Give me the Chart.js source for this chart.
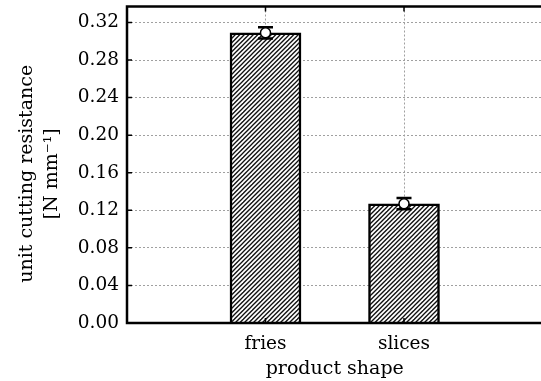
<!DOCTYPE html>
<html>
<head>
<meta charset="utf-8">
<script src="https://cdn.jsdelivr.net/npm/chart.js@4"></script>
<style>
  html, body { margin: 0; padding: 0; background: #fff; overflow: hidden; }
</style>
</head>
<body>
<canvas id="myChart" width="549" height="381"></canvas>
<script>
// data
const categories = ['', 'fries', 'slices', ''];
const resistance = [null, 0.309, 0.127, null];
const resistanceErr = [null, 0.006, 0.006, null];
const yTicks = [0.00, 0.04, 0.08, 0.12, 0.16, 0.20, 0.24, 0.28, 0.32];

const serif = 'DejaVu Serif';

// diagonal hatching for the bars
function makeHatch() {
  const c = document.createElement('canvas');
  c.width = 9; c.height = 9;
  const g = c.getContext('2d');
  g.fillStyle = '#fff';
  g.fillRect(0, 0, 9, 9);
  g.strokeStyle = '#111';
  g.lineWidth = 1.35;
  for (let k = 0; k <= 4; k++) {
    const o = k * 4.5;
    g.beginPath();
    g.moveTo(o + 1, -1);
    g.lineTo(o - 10, 10);
    g.stroke();
  }
  return g.createPattern(c, 'repeat');
}
const ctx = document.getElementById('myChart').getContext('2d');
const hatch = makeHatch();

// no label overflow padding, the layout padding decides
function noPad(s) {
  s.paddingTop = 0; s.paddingBottom = 0;
  s.paddingLeft = 0; s.paddingRight = 0;
}

// error bars drawn right after the bars, before the markers
const errorBars = {
  id: 'errorBars',
  afterDatasetDraw(chart, args) {
    if (args.index !== 1) return;
    const y = chart.scales.y;
    const g = chart.ctx;
    g.save();
    g.strokeStyle = '#000';
    args.meta.data.forEach((bar, i) => {
      if (resistance[i] == null) return;
      const top = y.getPixelForValue(resistance[i] + resistanceErr[i]);
      const bot = y.getPixelForValue(resistance[i] - resistanceErr[i]);
      g.lineWidth = 2;
      g.beginPath();
      g.moveTo(bar.x, top); g.lineTo(bar.x, bot);
      g.stroke();
      g.lineWidth = 2.5;
      g.beginPath();
      g.moveTo(bar.x - 7.5, top); g.lineTo(bar.x + 7.5, top);
      g.moveTo(bar.x - 7.5, bot); g.lineTo(bar.x + 7.5, bot);
      g.stroke();
    });
    g.restore();
  }
};

// frame + inward ticks
const frame = {
  id: 'frame',
  afterDraw(chart) {
    const a = chart.chartArea;
    const g = chart.ctx;
    const x = chart.scales.x, y = chart.scales.y;
    g.save();
    g.strokeStyle = '#000';
    g.lineWidth = 1.5;
    g.beginPath();
    y.ticks.forEach(t => {
      const py = y.getPixelForValue(t.value);
      g.moveTo(a.left, py); g.lineTo(a.left + 5, py);
    });
    x.ticks.forEach((t, i) => {
      if (!categories[i]) return;
      const px = x.getPixelForTick(i);
      g.moveTo(px, a.top); g.lineTo(px, a.top + 5);
      g.moveTo(px, a.bottom); g.lineTo(px, a.bottom - 5);
    });
    g.stroke();
    g.lineWidth = 2.5;
    g.strokeRect(a.left, a.top, a.right - a.left, a.bottom - a.top);
    g.restore();
  }
};

let myChart = new Chart(ctx, {
  type: 'bar',
  data: {
    labels: categories,
    datasets: [
      {
        type: 'line',
        data: resistance,
        showLine: false,
        pointRadius: 5,
        pointBackgroundColor: '#fff',
        pointBorderColor: '#000',
        pointBorderWidth: 1.5,
        order: 0
      },
      {
        data: resistance,
        backgroundColor: hatch,
        borderColor: '#000',
        borderWidth: 2.5,
        borderSkipped: 'start',
        barThickness: 71,
        order: 1
      }
    ]
  },
  options: {
    responsive: false,
    animation: false,
    devicePixelRatio: 1,
    layout: { padding: { top: 5, right: 3, left: 0, bottom: 0 } },
    plugins: { legend: { display: false }, tooltip: { enabled: false } },
    scales: {
      x: {
        offset: false,
        afterFit: s => { s.height = 58; noPad(s); },
        grid: {
          offset: false,
          drawTicks: false,
          color: c => (categories[c.index] ? '#a0a0a0' : 'rgba(0,0,0,0)'),
          lineWidth: 1
        },
        border: { display: false, dash: [2, 2] },
        ticks: {
          color: '#000',
          padding: 10,
          maxRotation: 0,
          font: { family: serif, size: 18.5 }
        },
        title: {
          display: true,
          text: 'product shape',
          color: '#000',
          padding: { top: 0, bottom: 1 },
          font: { family: serif, size: 19 }
        }
      },
      y: {
        min: 0,
        max: 0.337,
        afterFit: s => { s.width = 127; noPad(s); },
        afterBuildTicks: s => { s.ticks = yTicks.map(v => ({ value: v })); },
        grid: { drawTicks: false, color: '#a0a0a0', lineWidth: 1 },
        border: { display: false, dash: [2, 2] },
        ticks: {
          color: '#000',
          padding: 8,
          font: { family: serif, size: 18.5 },
          callback: v => Number(v).toFixed(2)
        },
        title: {
          display: true,
          text: ['unit cutting resistance   ', '[N mm\u207B\u00B9]   '],
          color: '#000',
          padding: { top: 15, bottom: 0 },
          font: { family: serif, size: 19, lineHeight: 1.3 }
        }
      }
    }
  },
  plugins: [errorBars, frame]
});
</script>
</body>
</html>
